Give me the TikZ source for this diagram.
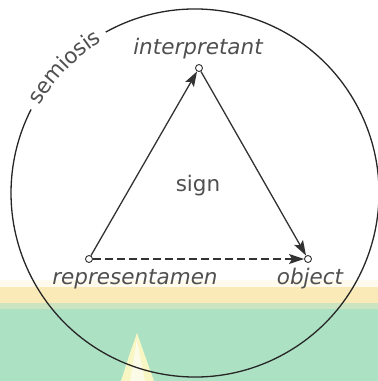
\documentclass[tikz,border=0pt]{standalone}
\usepackage{fontspec}
\setmainfont{DejaVu Sans}
\usetikzlibrary{arrows.meta,decorations.text}

\definecolor{trazo}{HTML}{333333}
\definecolor{txtgris}{HTML}{505050}
\definecolor{verde}{HTML}{ADE1C4}
\definecolor{amarillo}{HTML}{FAEAB8}
\definecolor{brillo}{HTML}{F8F6C2}
\newcommand\fuenteetq{\fontsize{21.5}{25}\selectfont}

\begin{document}
\begin{tikzpicture}[x=1pt, y=1pt, >={Stealth[length=15pt, width=10pt, inset=3pt]},
  punto/.style={circle, draw=trazo, fill=white, line width=0.9pt,
                minimum size=7pt, inner sep=0pt},
  etiq/.style={text=txtgris, font=\fuenteetq\itshape, anchor=base},
  flecha/.style={->, draw=trazo, line width=1.3pt}]

  % --- Fondo ---
  \useasboundingbox (0,0) rectangle (378,381);
  \fill[white] (0,0) rectangle (378,381);
  \fill[amarillo!25] (0,94) rectangle (378,101);
  \fill[amarillo] (0,78) rectangle (378,94);
  \fill[verde!60!amarillo] (0,72) rectangle (378,78);
  \fill[verde] (0,0) rectangle (378,72);
  % Destello amarillo abajo
  \fill[brillo] (121,0) -- (130,28) -- (137,48) -- (144,28) -- (154,0) -- cycle;
  \fill[white!60!brillo] (130,0) -- (135,30) -- (137,42) -- (139,30) -- (145,0) -- cycle;

  % --- Circulo de la semiosis ---
  \draw[black!85, line width=1.3pt] (195,188) ++(119:184)
        arc[start angle=119, end angle=-207, radius=184];
  \path[decorate, decoration={text along path, text align=center,
        text color=txtgris, raise=-6pt, text={|\fuenteetq|semiosis}}]
        (195,188) ++(153:184) arc[start angle=153, end angle=119, radius=184];

  % --- Vertices del triangulo ---
  \node[punto] (interp) at (199,313) {};
  \node[punto] (repr)   at (89,122)  {};
  \node[punto] (obj)    at (308,122) {};

  % --- Etiquetas ---
  \node[etiq] (tinterp) at (198,326) {interpretant};
  \node[etiq] (trepr)   at (135,96)  {representamen};
  \node[etiq] (tobj)    at (310,96)  {object};
  \node[etiq, font=\fuenteetq] (tsign) at (198,189) {sign};

  % --- Flechas ---
  \draw[flecha] (repr) -- (interp);
  \draw[flecha] (interp) -- (obj);
  \draw[flecha, dash pattern=on 8pt off 4pt] (repr) -- (obj);

\end{tikzpicture}
\end{document}
